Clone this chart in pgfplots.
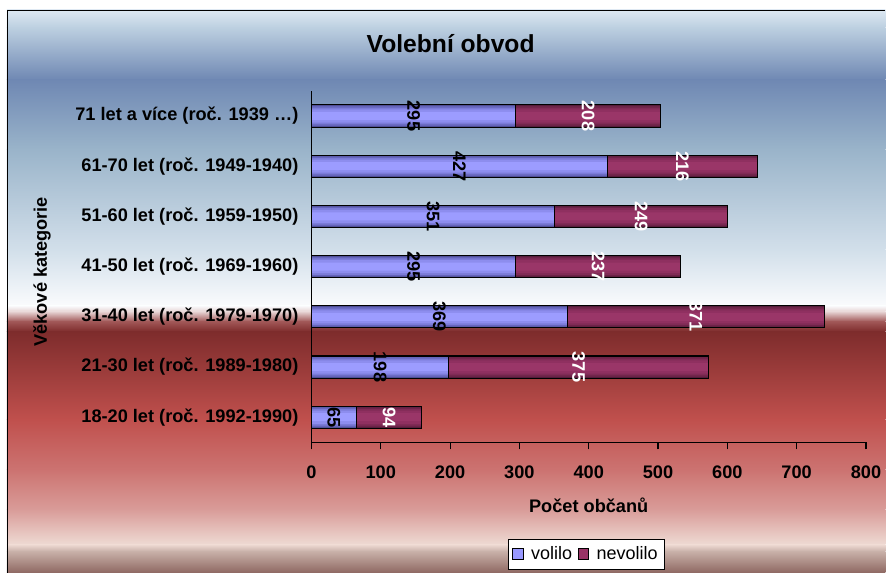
\documentclass[border=0pt]{standalone}
\usepackage{fontspec}
\setmainfont{Liberation Sans}
\usepackage{pgfplots}
\usepackage{pgfplotstable}
\pgfplotsset{compat=1.18}

\definecolor{volilo}{HTML}{9999FF}
\definecolor{volA}{HTML}{4F4F96}
\definecolor{volB}{HTML}{6565BA}
\definecolor{volC}{HTML}{7B7BD8}
\definecolor{volD}{HTML}{8D8DEE}
\definecolor{vol0}{HTML}{9C9CFF}
\definecolor{nevolilo}{HTML}{993366}
\definecolor{nevA}{HTML}{561C3B}
\definecolor{nevB}{HTML}{6C2448}
\definecolor{nevC}{HTML}{802B56}
\definecolor{nevD}{HTML}{8F3060}
\definecolor{nev0}{HTML}{9A3668}

\newcommand\lbl{\fontsize{13.65}{15}\selectfont\bfseries}

% pos 0 = 18-20 let ... pos 6 = 71 let a vice
\pgfplotstableread{
pos vol nev
0   65  94
1   198 375
2   369 371
3   295 237
4   351 249
5   427 216
6   295 208
}\obvod

\pgfplotsset{lay/.style={xbar, bar shift=0pt, draw=none, forget plot}}

\begin{document}
\begin{tikzpicture}[x=0.75pt,y=0.75pt]
% background (1 unit = 1 px of the reference, y measured from the bottom)
\fill[white] (0,0) rectangle (886,573);
\shade[top color={rgb,255:red,221;green,232;blue,242}, bottom color={rgb,255:red,188;green,207;blue,224}] (7,563) rectangle (886,545);
\shade[top color={rgb,255:red,188;green,207;blue,224}, bottom color={rgb,255:red,111;green,136;blue,179}] (7,545) rectangle (886,493);
\shade[top color={rgb,255:red,111;green,136;blue,179}, bottom color={rgb,255:red,154;green,180;blue,202}] (7,493) rectangle (886,423);
\shade[top color={rgb,255:red,154;green,180;blue,202}, bottom color={rgb,255:red,210;green,223;blue,234}] (7,423) rectangle (886,323);
\shade[top color={rgb,255:red,210;green,223;blue,234}, bottom color={rgb,255:red,250;green,251;blue,253}] (7,323) rectangle (886,267);
\shade[top color={rgb,255:red,250;green,251;blue,253}, bottom color={rgb,255:red,230;green,210;blue,210}] (7,267) rectangle (886,261);
\shade[top color={rgb,255:red,230;green,210;blue,210}, bottom color={rgb,255:red,160;green,86;blue,86}] (7,261) rectangle (886,251);
\shade[top color={rgb,255:red,160;green,86;blue,86}, bottom color={rgb,255:red,126;green,44;blue,44}] (7,251) rectangle (886,241);
\shade[top color={rgb,255:red,126;green,44;blue,44}, bottom color={rgb,255:red,192;green,80;blue,77}] (7,241) rectangle (886,153);
\shade[top color={rgb,255:red,192;green,80;blue,77}, bottom color={rgb,255:red,204;green,115;blue,113}] (7,153) rectangle (886,103);
\shade[top color={rgb,255:red,204;green,115;blue,113}, bottom color={rgb,255:red,217;green,156;blue,153}] (7,103) rectangle (886,63);
\shade[top color={rgb,255:red,217;green,156;blue,153}, bottom color={rgb,255:red,238;green,218;blue,211}] (7,63) rectangle (886,28);
\shade[top color={rgb,255:red,238;green,218;blue,211}, bottom color={rgb,255:red,200;green,176;blue,168}] (7,28) rectangle (886,21);
\shade[top color={rgb,255:red,200;green,176;blue,168}, bottom color={rgb,255:red,143;green,105;blue,99}] (7,21) rectangle (886,0);
\draw[black, line width=1.1pt] (7.5,0) -- (7.5,562.5) -- (886,562.5);

% title and y label
\node[font=\fontsize{18.5}{20}\selectfont\bfseries] at (451,529) {Volební obvod};
\node[font=\lbl, rotate=90] at (42,301) {Věkové kategorie};

\begin{axis}[
    at={(233.775pt,97.725pt)}, anchor=south west,
    scale only axis, width=416.25pt, height=263.8pt,
    xmin=0, xmax=800, ymin=-0.5, ymax=6.5,
    axis lines*=left,
    axis line style={black, line width=0.8pt},
    clip=false,
    xtick={0,100,...,800},
    tick align=outside,
    major tick length=5.25pt,
    x tick style={black, line width=0.8pt},
    ytick={0,...,6},
    y tick style={draw=none},
    yticklabels={
        18-20 let (roč. 1992-1990),
        21-30 let (roč. 1989-1980),
        31-40 let (roč. 1979-1970),
        41-50 let (roč. 1969-1960),
        51-60 let (roč. 1959-1950),
        61-70 let (roč. 1949-1940),
        71 let a více (roč. 1939 …)},
    tick label style={font=\lbl},
    /pgf/number format/assume math mode=true,
    xticklabel style={yshift=-8.5pt},
    yticklabel style={xshift=-1pt},
    xlabel={Počet občanů},
    xlabel style={font=\lbl, yshift=-8.25pt},
    legend style={at={(0.4955,-0.318)}, anchor=center, legend columns=2,
        draw=black, fill=white, font=\fontsize{13.5}{15}\selectfont,
        inner xsep=3pt, inner ysep=3.5pt,
        /tikz/every even column/.append style={column sep=2pt},
        /tikz/every odd column/.append style={column sep=4pt}},
    legend image code/.code={\draw[#1] (0pt,-4pt) rectangle (8pt,4pt);},
]
\addlegendimage{draw=black, fill=volilo}
\addlegendentry{volilo}
\addlegendimage{draw=black, fill=nevolilo}
\addlegendentry{nevolilo}

% nevolilo drawn as the whole bar, volilo on top of it; layers give the shading
\addplot[lay, bar width=0.44, fill=nevA] table[x expr=\thisrow{vol}+\thisrow{nev}, y=pos] {\obvod};
\addplot[lay, bar width=0.39, fill=nevB] table[x expr=\thisrow{vol}+\thisrow{nev}, y=pos] {\obvod};
\addplot[lay, bar width=0.33, fill=nevC] table[x expr=\thisrow{vol}+\thisrow{nev}, y=pos] {\obvod};
\addplot[lay, bar width=0.26, fill=nevD] table[x expr=\thisrow{vol}+\thisrow{nev}, y=pos] {\obvod};
\addplot[lay, bar width=0.16, fill=nev0] table[x expr=\thisrow{vol}+\thisrow{nev}, y=pos] {\obvod};
\addplot[lay, bar width=0.44, fill=volA] table[x=vol, y=pos] {\obvod};
\addplot[lay, bar width=0.39, fill=volB] table[x=vol, y=pos] {\obvod};
\addplot[lay, bar width=0.33, fill=volC] table[x=vol, y=pos] {\obvod};
\addplot[lay, bar width=0.26, fill=volD] table[x=vol, y=pos] {\obvod};
\addplot[lay, bar width=0.16, fill=vol0] table[x=vol, y=pos] {\obvod};
% outlines
\addplot[lay, bar width=0.44, draw=black, line width=0.8pt, fill=none] table[x expr=\thisrow{vol}+\thisrow{nev}, y=pos] {\obvod};
\addplot[lay, bar width=0.44, draw=black, line width=0.8pt, fill=none] table[x=vol, y=pos] {\obvod};

% value labels in the middle of each segment
\addplot[draw=none, mark=none, forget plot, point meta=explicit symbolic,
    nodes near coords,
    nodes near coords style={rotate=-90, anchor=center, font=\lbl, text=black, inner sep=0pt}]
    table[x expr=\thisrow{vol}/2, y=pos, meta=vol] {\obvod};
\addplot[draw=none, mark=none, forget plot, point meta=explicit symbolic,
    nodes near coords,
    nodes near coords style={rotate=-90, anchor=center, font=\lbl, text=white, inner sep=0pt}]
    table[x expr=\thisrow{vol}+\thisrow{nev}/2, y=pos, meta=nev] {\obvod};
\end{axis}
\end{tikzpicture}
\end{document}
